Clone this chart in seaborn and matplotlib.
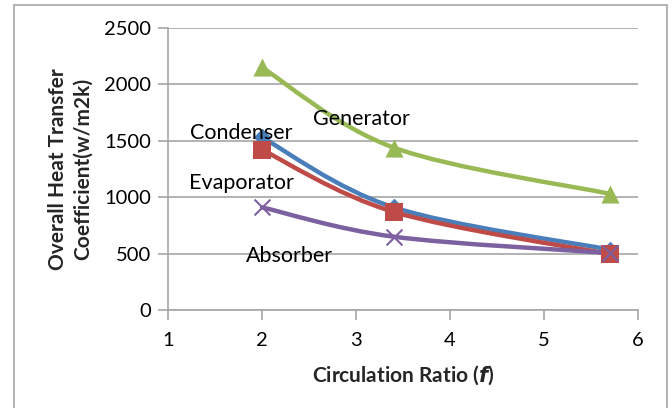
import numpy as np
import pandas as pd
import seaborn as sns
import matplotlib
matplotlib.use("Agg")
import matplotlib.pyplot as plt
from matplotlib.path import Path
from matplotlib.patches import PathPatch, Rectangle

# ---- data ----
ratio = [2.0, 3.4, 5.7]
condenser = [1530, 910, 535]
evaporator = [1420, 870, 495]
generator = [2150, 1440, 1030]
absorber = [910, 650, 505]
series_names = ["Condenser", "Evaporator", "Generator", "Absorber"]
y_ticks = [0, 500, 1000, 1500, 2000, 2500]
x_ticks = [1, 2, 3, 4, 5, 6]

sns.set_theme(style="white")
plt.rcParams['font.family'] = ['Lato', 'DejaVu Sans']

df = pd.DataFrame({
    "ratio": ratio * 4,
    "value": condenser + evaporator + generator + absorber,
    "series": sum([[n] * len(ratio) for n in series_names], []),
})

colors = {"Condenser": "#4A7EBB", "Evaporator": "#BE4B48",
          "Generator": "#98B954", "Absorber": "#7D60A0"}
markers = {"Condenser": "D", "Evaporator": "s", "Generator": "^", "Absorber": "x"}
msize = {"Condenser": 80, "Evaporator": 170, "Generator": 170, "Absorber": 130}

fig = plt.figure(figsize=(6.72, 4.08), dpi=100)
ax = fig.add_axes([168/672, 1-310/408, (638-168)/672, (310-28)/408])

# chart-area border
fig.patches.append(Rectangle((14/672, -0.1), (667-14)/672, 1.1 - 5/408,
                             transform=fig.transFigure, fill=False,
                             edgecolor="#A6A6A6", linewidth=1.2))

def smooth_path(xs, ys):
    pts = np.column_stack([xs, ys]).astype(float)
    p = np.vstack([pts[0], pts, pts[-1]])
    verts = [tuple(pts[0])]
    codes = [Path.MOVETO]
    for i in range(1, len(p) - 2):
        p0, p1, p2, p3 = p[i-1], p[i], p[i+1], p[i+2]
        c1 = p1 + (p2 - p0) / 6.0
        c2 = p2 - (p3 - p1) / 6.0
        verts += [tuple(c1), tuple(c2), tuple(p2)]
        codes += [Path.CURVE4] * 3
    return Path(verts, codes)

draw_order = ["Generator", "Condenser", "Evaporator", "Absorber"]
for name in draw_order:
    sub = df[df.series == name]
    ax.add_patch(PathPatch(smooth_path(sub.ratio.values, sub.value.values),
                           fill=False, edgecolor=colors[name], linewidth=3.2,
                           zorder=3, capstyle="round", joinstyle="round"))
for name in draw_order:
    sub = df[df.series == name]
    kw = dict(linewidth=1.5) if markers[name] == "x" else dict(linewidth=0)
    sns.scatterplot(data=sub, x="ratio", y="value", ax=ax, color=colors[name],
                    marker=markers[name], s=msize[name], zorder=4, legend=False, **kw)

ax.set_xlim(1, 6)
ax.set_ylim(0, 2500)
ax.set_xticks(x_ticks)
ax.set_yticks(y_ticks)
ax.grid(axis="y", color="#A6A6A6", linewidth=1.2)
ax.grid(axis="x", visible=False)
ax.set_axisbelow(True)
for s in ["top", "right"]:
    ax.spines[s].set_visible(False)
for s in ["left", "bottom"]:
    ax.spines[s].set_color("#A6A6A6")
    ax.spines[s].set_linewidth(1.2)
ax.tick_params(axis="both", which="major", length=7, width=1.2, color="#A6A6A6",
               labelsize=14.5, labelcolor="black", direction="out")
ax.tick_params(axis="x", pad=9)
ax.tick_params(axis="y", pad=5)
ax.yaxis.set_ticks_position("left")
ax.xaxis.set_ticks_position("bottom")

ax.set_xlabel(r"Circulation Ratio ($\mathbfit{f}$)", fontsize=15, fontweight="bold", labelpad=10)
ax.set_ylabel("Overall Heat Transfer\nCoefficient(w/m2k)", fontsize=15,
              fontweight="bold", labelpad=8, linespacing=1.35)

ann = {"Generator": (2.54, 1690), "Condenser": (1.23, 1565),
       "Evaporator": (1.22, 1125), "Absorber": (1.83, 480)}
for name, (x, y) in ann.items():
    ax.text(x, y, name, fontsize=15.5, va="center", ha="left", color="black", zorder=5)

fig.savefig("out.png", dpi=100)
